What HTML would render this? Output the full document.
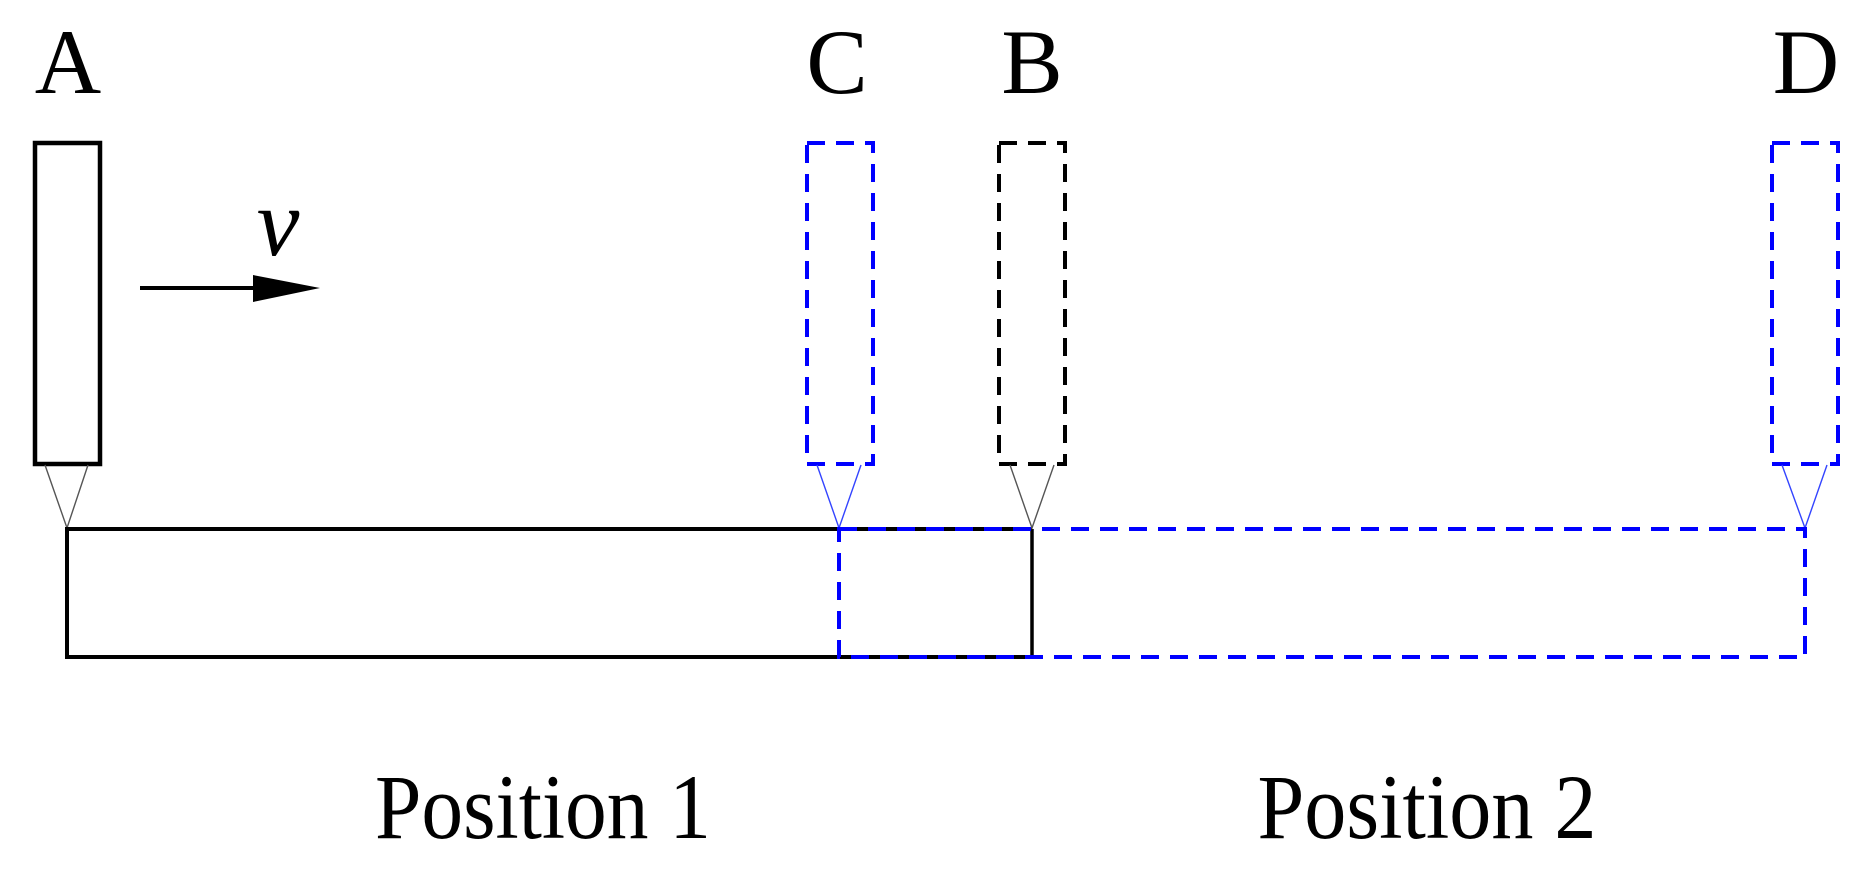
<!DOCTYPE html>
<html><head><meta charset="utf-8"><style>html,body{margin:0;padding:0;background:#fff}svg{display:block}</style></head>
<body>
<svg width="1866" height="869" viewBox="0 0 1866 869" xmlns="http://www.w3.org/2000/svg">
<g font-family="'Liberation Serif', serif" font-size="92" fill="#000" text-anchor="middle">
<text x="68" y="93">A</text>
<text x="837" y="93">C</text>
<text x="1032" y="93">B</text>
<text x="1806" y="93">D</text>
<text x="278" y="255" font-style="italic" font-size="96">v</text>
<text x="543" y="838" textLength="336" lengthAdjust="spacingAndGlyphs">Position 1</text>
<text x="1427" y="838" textLength="339" lengthAdjust="spacingAndGlyphs">Position 2</text>
</g>
<!-- arrow -->
<line x1="140" y1="288" x2="258" y2="288" stroke="#000" stroke-width="4"/>
<polygon points="253,275 320,288 253,302" fill="#000"/>
<!-- A -->
<rect x="35" y="143" width="65" height="321" fill="none" stroke="#000" stroke-width="4.5"/>
<polyline points="45,465 67,528 88,465" fill="none" stroke="#555" stroke-width="1.4"/>
<!-- black bar -->
<polyline points="838,529 67,529 67,657 838,657" fill="none" stroke="#000" stroke-width="4"/>
<line x1="838" y1="529" x2="1032" y2="529" stroke="#000" stroke-width="4"/>
<line x1="838" y1="657" x2="1032" y2="657" stroke="#000" stroke-width="4"/>
<line x1="1032" y1="529" x2="1032" y2="657" stroke="#000" stroke-width="3.5"/>
<!-- B -->
<rect x="999" y="143" width="66" height="321" fill="none" stroke="#000" stroke-width="4" stroke-dasharray="18,11"/>
<polyline points="1010,465 1032,528 1054,465" fill="none" stroke="#555" stroke-width="1.4"/>
<!-- blue -->
<rect x="807" y="143" width="66" height="321" fill="none" stroke="#0000ff" stroke-width="4" stroke-dasharray="18,11"/>
<polyline points="817,465 839,528 861,465" fill="none" stroke="#3344ff" stroke-width="1.4"/>
<rect x="1772" y="143" width="66" height="321" fill="none" stroke="#0000ff" stroke-width="4" stroke-dasharray="18,11"/>
<polyline points="1782,465 1805,528 1827,465" fill="none" stroke="#3344ff" stroke-width="1.4"/>
<rect x="839" y="529" width="966" height="128" fill="none" stroke="#0000ff" stroke-width="4" stroke-dasharray="18,11"/>
</svg>
</body></html>
